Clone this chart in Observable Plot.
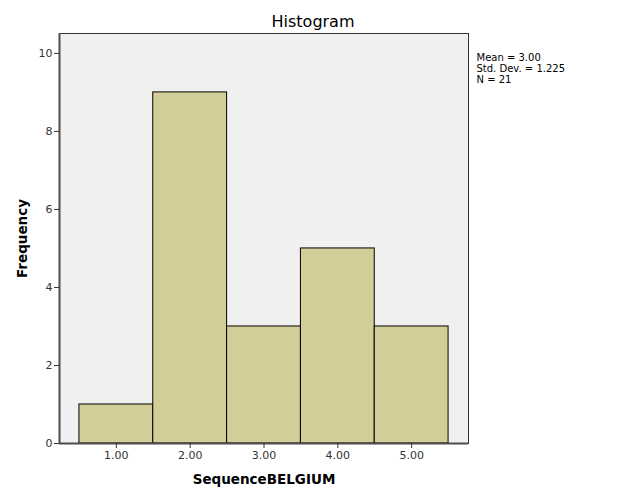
<!DOCTYPE html>
<html><head><meta charset="utf-8">
<script src="https://cdn.jsdelivr.net/npm/d3@7"></script>
<script src="https://cdn.jsdelivr.net/npm/@observablehq/plot@0.6"></script>
<style>body{margin:0;background:#fff} svg{font-family:"DejaVu Sans",sans-serif;background:#fff}</style>
</head><body><div id="chart"></div>
<script>
const binLower = [0.5, 1.5, 2.5, 3.5, 4.5];
const binUpper = [1.5, 2.5, 3.5, 4.5, 5.5];
const frequency = [1, 9, 3, 5, 3];
const xTicks = [1, 2, 3, 4, 5];
const yTicks = [0, 2, 4, 6, 8, 10];
const statLines = ["Mean = 3.00", "Std. Dev. = 1.225", "N = 21"];
const titleText = "Histogram";
const xLabel = "SequenceBELGIUM";
const yLabel = "Frequency";

const bins = binLower.map((x1, i) => ({x1, x2: binUpper[i], y: frequency[i]}));
const xMin = 0.23, xMax = 5.77;

const chart = Plot.plot({
  width: 626, height: 501,
  marginLeft: 59, marginRight: 158, marginTop: 33, marginBottom: 58,
  x: {domain: [xMin, xMax]},
  y: {domain: [0, 10.51]},
  marks: [
    Plot.frame({fill: "#f0f0f0", stroke: "#333", strokeWidth: 1}),
    Plot.rectY(bins, {x1: "x1", x2: "x2", y: "y", fill: "#d3ce97", stroke: "#000", strokeWidth: 1}),
    Plot.ruleX([xMin], {stroke: "#4d4d4d", strokeWidth: 2}),
    Plot.ruleY([0], {stroke: "#4d4d4d", strokeWidth: 2}),
    Plot.axisX(xTicks, {tickFormat: d3.format(".2f"), tickSize: 5, tickPadding: 3, fontSize: 11, label: null, color: "#333"}),
    Plot.axisY(yTicks, {tickFormat: d3.format("d"), tickSize: 5, tickPadding: 2, fontSize: 11, label: null, color: "#333"}),
    Plot.text([titleText], {frameAnchor: "top", lineAnchor: "middle", dx: 49, dy: -12, fontSize: 16, fill: "#000"}),
    Plot.text([statLines.join("\n")], {frameAnchor: "top-right", textAnchor: "start", lineAnchor: "top", dx: 8, dy: 20, fontSize: 10, lineHeight: 1.1, fill: "#000"}),
    Plot.text([yLabel], {frameAnchor: "left", rotate: -90, textAnchor: "middle", lineAnchor: "middle", dx: -37, fontSize: 13.5, fontWeight: "bold", fill: "#000"}),
    Plot.text([xLabel], {frameAnchor: "bottom", textAnchor: "middle", lineAnchor: "middle", dy: 36, fontSize: 13.5, fontWeight: "bold", fill: "#000"})
  ]
});
document.getElementById("chart").append(chart);
</script>
</body></html>
